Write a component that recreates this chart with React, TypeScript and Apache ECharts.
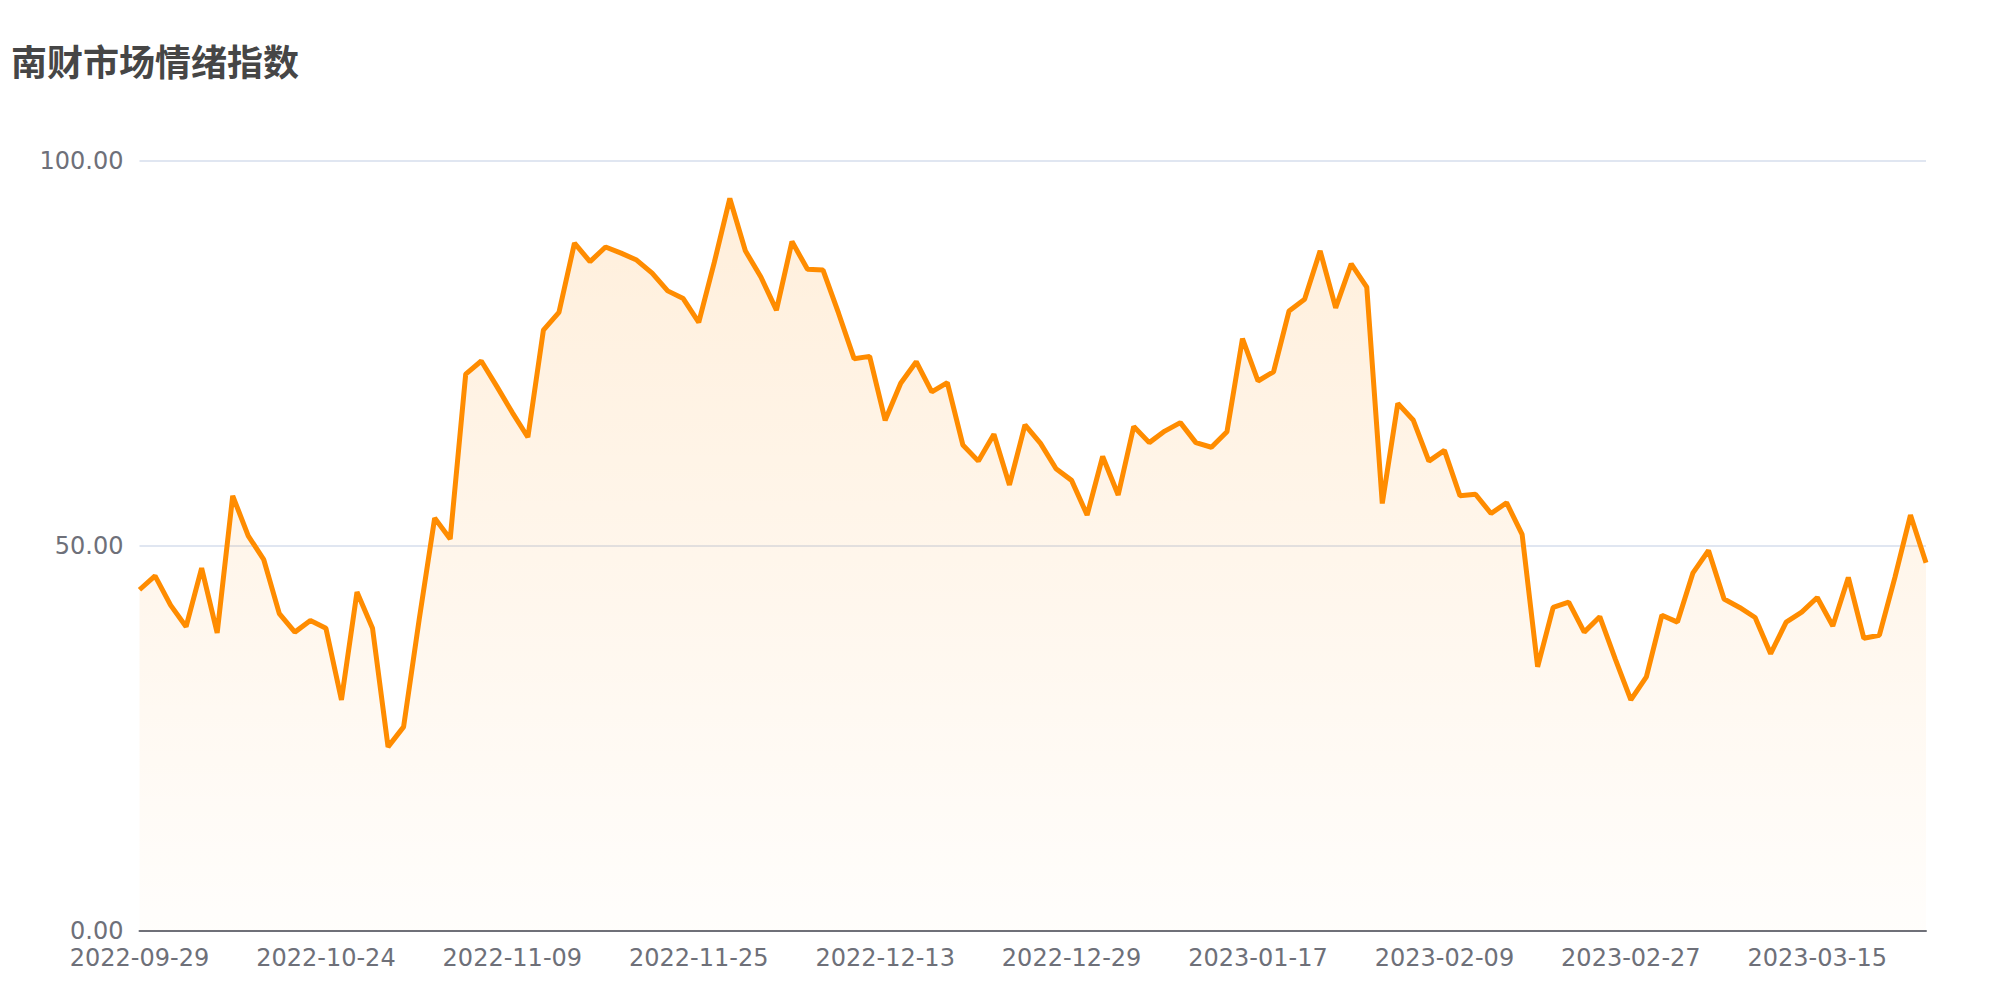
import React, { useEffect, useRef } from "react";
import * as echarts from "echarts";

const titleText = "南财市场情绪指数";

const dates = [
  "2022-09-29", "2022-09-30", "2022-10-10", "2022-10-11", "2022-10-12", "2022-10-13", "2022-10-14",
  "2022-10-17", "2022-10-18", "2022-10-19", "2022-10-20", "2022-10-21", "2022-10-24", "2022-10-25",
  "2022-10-26", "2022-10-27", "2022-10-28", "2022-10-31", "2022-11-01", "2022-11-02", "2022-11-03",
  "2022-11-04", "2022-11-07", "2022-11-08", "2022-11-09", "2022-11-10", "2022-11-11", "2022-11-14",
  "2022-11-15", "2022-11-16", "2022-11-17", "2022-11-18", "2022-11-21", "2022-11-22", "2022-11-23",
  "2022-11-24", "2022-11-25", "2022-11-28", "2022-11-29", "2022-11-30", "2022-12-01", "2022-12-02",
  "2022-12-05", "2022-12-06", "2022-12-07", "2022-12-08", "2022-12-09", "2022-12-12", "2022-12-13",
  "2022-12-14", "2022-12-15", "2022-12-16", "2022-12-19", "2022-12-20", "2022-12-21", "2022-12-22",
  "2022-12-23", "2022-12-26", "2022-12-27", "2022-12-28", "2022-12-29", "2022-12-30", "2023-01-03",
  "2023-01-04", "2023-01-05", "2023-01-06", "2023-01-09", "2023-01-10", "2023-01-11", "2023-01-12",
  "2023-01-13", "2023-01-16", "2023-01-17", "2023-01-18", "2023-01-19", "2023-01-20", "2023-01-30",
  "2023-01-31", "2023-02-01", "2023-02-02", "2023-02-03", "2023-02-06", "2023-02-07", "2023-02-08",
  "2023-02-09", "2023-02-10", "2023-02-13", "2023-02-14", "2023-02-15", "2023-02-16", "2023-02-17",
  "2023-02-20", "2023-02-21", "2023-02-22", "2023-02-23", "2023-02-24", "2023-02-27", "2023-02-28",
  "2023-03-01", "2023-03-02", "2023-03-03", "2023-03-06", "2023-03-07", "2023-03-08", "2023-03-09",
  "2023-03-10", "2023-03-13", "2023-03-14", "2023-03-15", "2023-03-16", "2023-03-17", "2023-03-20",
  "2023-03-21", "2023-03-22", "2023-03-23", "2023-03-24",
];

const sentiment = [
  44.3, 46.1, 42.3, 39.5, 47.1, 38.7, 56.5, 51.3, 48.2, 41.2,
  38.8, 40.3, 39.3, 30.0, 44.0, 39.3, 23.9, 26.5, 40.4, 53.6,
  50.9, 72.3, 74.0, 70.7, 67.3, 64.1, 78.0, 80.3, 89.3, 86.9,
  88.8, 88.0, 87.1, 85.4, 83.1, 82.1, 79.0, 86.8, 95.1, 88.3,
  84.9, 80.6, 89.5, 85.9, 85.8, 80.2, 74.3, 74.6, 66.3, 71.1,
  73.9, 70.0, 71.2, 63.1, 61.0, 64.5, 57.9, 65.7, 63.3, 60.0,
  58.5, 54.0, 61.6, 56.6, 65.5, 63.4, 64.9, 66.0, 63.4, 62.8,
  64.8, 76.9, 71.4, 72.6, 80.5, 82.0, 88.3, 80.9, 86.6, 83.6,
  55.5, 68.5, 66.3, 61.0, 62.4, 56.5, 56.7, 54.2, 55.6, 51.5,
  34.3, 42.0, 42.7, 38.8, 40.8, 35.3, 30.0, 33.0, 41.0, 40.1,
  46.5, 49.4, 43.1, 42.0, 40.7, 36.0, 40.1, 41.4, 43.3, 39.6,
  45.9, 38.0, 38.4, 45.9, 54.0, 47.8,
];

const yMin = 0;
const yMax = 100;
const yInterval = 50;

export default function App() {
  const ref = useRef<HTMLDivElement>(null);

  useEffect(() => {
    document.body.style.margin = "0";
    if (!ref.current) return;
    const chart = echarts.init(ref.current, null, { renderer: "svg" });
    chart.setOption({
      animation: false,
      backgroundColor: "#ffffff",
      title: {
        text: titleText,
        left: 11,
        top: 42,
        padding: 0,
        textStyle: {
          fontSize: 36,
          fontWeight: "bold",
          color: "#464646",
          fontFamily: "Noto Sans CJK SC",
        },
      },
      grid: { left: 139.5, right: 74, top: 160.7, bottom: 69 },
      xAxis: {
        type: "category",
        data: dates,
        boundaryGap: false,
        axisLine: { lineStyle: { color: "#6e7079", width: 2 } },
        axisTick: { show: false },
        axisLabel: {
          interval: 11,
          fontSize: 24,
          color: "#6e7079",
          margin: 15,
          fontFamily: "DejaVu Sans",
        },
        splitLine: { show: false },
      },
      yAxis: {
        type: "value",
        min: yMin,
        max: yMax,
        interval: yInterval,
        axisLine: { show: false },
        axisTick: { show: false },
        axisLabel: {
          fontSize: 24,
          color: "#6e7079",
          margin: 16,
          fontFamily: "DejaVu Sans",
          formatter: (v: number) => v.toFixed(2),
        },
        splitLine: { lineStyle: { color: "#e0e6f1", width: 2 } },
      },
      series: [
        {
          type: "line",
          data: sentiment,
          showSymbol: false,
          symbol: "none",
          lineStyle: { color: "#ff8c00", width: 5 },
          itemStyle: { color: "#ff8c00" },
          areaStyle: {
            color: new echarts.graphic.LinearGradient(0, 0, 0, 1, [
              { offset: 0, color: "rgba(255,140,0,0.2)" },
              { offset: 1, color: "rgba(255,140,0,0.02)" },
            ]),
          },
        },
      ],
    });
    return () => chart.dispose();
  }, []);

  return <div ref={ref} style={{ width: 2000, height: 1000 }} />;
}
